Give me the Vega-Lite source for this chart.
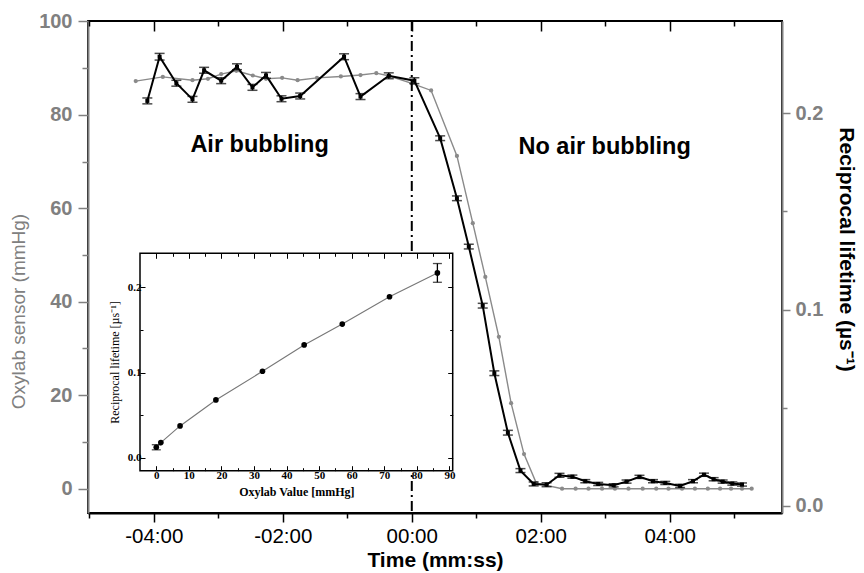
{
  "$schema": "https://vega.github.io/schema/vega-lite/v6.json",
  "width": 694,
  "height": 492,
  "autosize": "none",
  "padding": {"left": 88, "top": 21, "right": 82, "bottom": 60},
  "background": "white",
  "config": {"view": {"stroke": "black", "strokeWidth": 2}, "axis": {"grid": false}},
  "datasets": {
    "oxylab": [
      {"t": -4.28, "o": 87.2}, {"t": -3.86, "o": 88.1}, {"t": -3.4, "o": 87.4}, {"t": -3.16, "o": 87.7},
      {"t": -2.955, "o": 88.7}, {"t": -2.72, "o": 89.4}, {"t": -2.465, "o": 88.4}, {"t": -2.26, "o": 87.7},
      {"t": -2.01, "o": 87.9}, {"t": -1.77, "o": 87.4}, {"t": -1.47, "o": 87.9}, {"t": -1.1, "o": 88.2},
      {"t": -0.795, "o": 88.5}, {"t": -0.55, "o": 88.9}, {"t": -0.346, "o": 88.3}, {"t": 0, "o": 86.7},
      {"t": 0.3, "o": 85.2}, {"t": 0.7, "o": 71.2}, {"t": 0.946, "o": 56.8}, {"t": 1.14, "o": 45.3},
      {"t": 1.35, "o": 32.5}, {"t": 1.54, "o": 18.3}, {"t": 1.74, "o": 7.4}, {"t": 1.93, "o": 1.2},
      {"t": 2.33, "o": 0}, {"t": 2.54, "o": 0}, {"t": 2.74, "o": 0}, {"t": 2.95, "o": 0},
      {"t": 3.15, "o": 0}, {"t": 3.36, "o": 0}, {"t": 3.58, "o": 0}, {"t": 3.79, "o": 0},
      {"t": 3.98, "o": 0}, {"t": 4.19, "o": 0}, {"t": 4.39, "o": 0}, {"t": 4.59, "o": 0},
      {"t": 4.78, "o": 0}, {"t": 4.95, "o": 0}, {"t": 5.12, "o": 0}, {"t": 5.27, "o": 0}
    ],
    "recip": [
      {"t": -4.1, "r": 0.2063, "lo": 0.2048, "hi": 0.2078},
      {"t": -3.91, "r": 0.2288, "lo": 0.2271, "hi": 0.2305},
      {"t": -3.65, "r": 0.2153, "lo": 0.2138, "hi": 0.2168},
      {"t": -3.4, "r": 0.2071, "lo": 0.2056, "hi": 0.2086},
      {"t": -3.22, "r": 0.2219, "lo": 0.2204, "hi": 0.2234},
      {"t": -2.955, "r": 0.2166, "lo": 0.2151, "hi": 0.2181},
      {"t": -2.71, "r": 0.2237, "lo": 0.2222, "hi": 0.2252},
      {"t": -2.47, "r": 0.2132, "lo": 0.2117, "hi": 0.2147},
      {"t": -2.26, "r": 0.2193, "lo": 0.2178, "hi": 0.2208},
      {"t": -2.02, "r": 0.2074, "lo": 0.2059, "hi": 0.2089},
      {"t": -1.73, "r": 0.2088, "lo": 0.2073, "hi": 0.2103},
      {"t": -1.05, "r": 0.2288, "lo": 0.2273, "hi": 0.2303},
      {"t": -0.795, "r": 0.2085, "lo": 0.207, "hi": 0.21},
      {"t": -0.357, "r": 0.2191, "lo": 0.2176, "hi": 0.2206},
      {"t": 0.04, "r": 0.2166, "lo": 0.2151, "hi": 0.2181},
      {"t": 0.44, "r": 0.1873, "lo": 0.1861, "hi": 0.1885},
      {"t": 0.7, "r": 0.1567, "lo": 0.1555, "hi": 0.1579},
      {"t": 0.884, "r": 0.1321, "lo": 0.1309, "hi": 0.1333},
      {"t": 1.1, "r": 0.102, "lo": 0.1008, "hi": 0.1032},
      {"t": 1.28, "r": 0.0676, "lo": 0.0664, "hi": 0.0688},
      {"t": 1.49, "r": 0.0373, "lo": 0.0361, "hi": 0.0385},
      {"t": 1.685, "r": 0.018, "lo": 0.017, "hi": 0.019},
      {"t": 1.89, "r": 0.0112, "lo": 0.0102, "hi": 0.0122},
      {"t": 2.09, "r": 0.0108, "lo": 0.0098, "hi": 0.0118},
      {"t": 2.29, "r": 0.0156, "lo": 0.0146, "hi": 0.0166},
      {"t": 2.49, "r": 0.0149, "lo": 0.0141, "hi": 0.0157},
      {"t": 2.69, "r": 0.0126, "lo": 0.0118, "hi": 0.0134},
      {"t": 2.89, "r": 0.0112, "lo": 0.0104, "hi": 0.012},
      {"t": 3.13, "r": 0.0105, "lo": 0.0097, "hi": 0.0113},
      {"t": 3.33, "r": 0.0124, "lo": 0.0116, "hi": 0.0132},
      {"t": 3.53, "r": 0.0148, "lo": 0.014, "hi": 0.0156},
      {"t": 3.74, "r": 0.0126, "lo": 0.0118, "hi": 0.0134},
      {"t": 3.93, "r": 0.0117, "lo": 0.0109, "hi": 0.0125},
      {"t": 4.16, "r": 0.0102, "lo": 0.0094, "hi": 0.011},
      {"t": 4.36, "r": 0.0126, "lo": 0.0118, "hi": 0.0134},
      {"t": 4.53, "r": 0.0159, "lo": 0.0151, "hi": 0.0167},
      {"t": 4.68, "r": 0.0136, "lo": 0.0128, "hi": 0.0144},
      {"t": 4.82, "r": 0.0124, "lo": 0.0116, "hi": 0.0132},
      {"t": 4.97, "r": 0.0114, "lo": 0.0106, "hi": 0.0122},
      {"t": 5.12, "r": 0.0109, "lo": 0.0101, "hi": 0.0117}
    ],
    "calib": [
      {"v": 0, "r": 0.0125}, {"v": 1.4, "r": 0.018}, {"v": 7.3, "r": 0.0375}, {"v": 18.3, "r": 0.068},
      {"v": 32.6, "r": 0.1016}, {"v": 45.4, "r": 0.1325}, {"v": 57.1, "r": 0.157}, {"v": 71.6, "r": 0.189},
      {"v": 86.3, "r": 0.217}
    ],
    "calib_err": [
      {"v": 0, "r": 0.0125, "lo": 0.0095, "hi": 0.0155},
      {"v": 86.3, "r": 0.217, "lo": 0.206, "hi": 0.228}
    ],
    "notes": [
      {"t": -2.36, "o": 73.5, "label": "Air bubbling"},
      {"t": 2.99, "o": 73.1, "label": "No air bubbling"}
    ],
    "zero": [{"t": 0}]
  },
  "resolve": {"scale": {"x": "independent", "y": "independent"}, "axis": {"x": "independent", "y": "independent"}},
  "layer": [
    {
      "resolve": {"scale": {"y": "independent"}, "axis": {"y": "independent"}},
      "layer": [
        {
          "data": {"name": "oxylab"},
          "encoding": {
            "x": {"field": "t", "type": "quantitative", "scale": {"domain": [-5.02, 5.74], "nice": false, "zero": false},
              "axis": {"orient": "bottom", "values": [-5, -4, -3, -2, -1, 0, 1, 2, 3, 4, 5],
                "labelExpr": "datum.value % 2 === 0 ? (datum.value < 0 ? '-' : '') + '0' + abs(datum.value) + ':00' : ''",
                "tickSize": {"condition": {"test": "datum.value % 2 === 0", "value": 9}, "value": 5},
                "labelFont": "Liberation Sans", "labelFontSize": 20.5, "labelColor": "black", "labelPadding": 4,
                "domainColor": "black", "domainWidth": 2, "tickColor": "black", "tickWidth": 1.5,
                "title": "Time (mm:ss)", "titleFont": "Liberation Sans", "titleFontWeight": "bold", "titleFontSize": 21, "titlePadding": 3, "titleColor": "black"}},
            "y": {"field": "o", "type": "quantitative", "scale": {"domain": [-5.2, 100.06], "nice": false, "zero": false},
              "axis": {"orient": "left", "values": [0, 10, 20, 30, 40, 50, 60, 70, 80, 90, 100],
                "labelExpr": "datum.value % 20 === 0 ? datum.label : ''",
                "tickSize": {"condition": {"test": "datum.value % 20 === 0", "value": 10}, "value": 6},
                "labelFont": "Liberation Sans", "labelFontWeight": "bold", "labelFontSize": 20, "labelColor": "#808080", "labelPadding": 6,
                "domainColor": "#808080", "domainWidth": 2, "tickColor": "#808080", "tickWidth": 1.5,
                "title": "Oxylab sensor (mmHg)", "titleFont": "Liberation Sans", "titleFontWeight": "normal", "titleFontSize": 19, "titleColor": "#808080", "titlePadding": 10, "titleY": 290}}
          },
          "layer": [
            {"mark": {"type": "line", "color": "#8a8a8a", "strokeWidth": 1.4}},
            {"mark": {"type": "circle", "color": "#8a8a8a", "size": 18, "opacity": 1}},
            {
              "data": {"name": "notes"},
              "mark": {"type": "text", "font": "Liberation Sans", "fontWeight": "bold", "fontSize": 23.5, "color": "black", "baseline": "middle"},
              "encoding": {"text": {"field": "label"}}
            }
          ]
        },
        {
          "data": {"name": "recip"},
          "encoding": {
            "x": {"field": "t", "type": "quantitative", "scale": {"domain": [-5.02, 5.74], "nice": false, "zero": false},
              "axis": {"orient": "bottom", "values": [-5, -4, -3, -2, -1, 0, 1, 2, 3, 4, 5],
                "labelExpr": "datum.value % 2 === 0 ? (datum.value < 0 ? '-' : '') + '0' + abs(datum.value) + ':00' : ''",
                "tickSize": {"condition": {"test": "datum.value % 2 === 0", "value": 9}, "value": 5},
                "labelFont": "Liberation Sans", "labelFontSize": 20.5, "labelColor": "black", "labelPadding": 4,
                "domainColor": "black", "domainWidth": 2, "tickColor": "black", "tickWidth": 1.5,
                "title": "Time (mm:ss)", "titleFont": "Liberation Sans", "titleFontWeight": "bold", "titleFontSize": 21, "titlePadding": 3, "titleColor": "black"}},
            "y": {"field": "r", "type": "quantitative", "scale": {"domain": [-0.0036, 0.247], "nice": false, "zero": false},
              "axis": {"orient": "right", "values": [0, 0.05, 0.1, 0.15, 0.2],
                "labelExpr": "round(datum.value * 20) % 2 === 0 ? format(datum.value, '.1f') : ''",
                "tickSize": {"condition": {"test": "round(datum.value * 20) % 2 === 0", "value": 8}, "value": 5},
                "labelFont": "Liberation Sans", "labelFontWeight": "bold", "labelFontSize": 20, "labelColor": "#808080", "labelPadding": 5,
                "domainColor": "#808080", "domainWidth": 2, "tickColor": "#808080", "tickWidth": 1.5,
                "title": "Reciprocal lifetime (µs⁻¹)", "titleFont": "Liberation Sans", "titleFontWeight": "bold", "titleFontSize": 21, "titleColor": "black", "titlePadding": 13, "titleY": 228}}
          },
          "layer": [
            {"mark": {"type": "line", "color": "black", "strokeWidth": 2}},
            {"mark": {"type": "square", "color": "black", "size": 16, "opacity": 1}},
            {
              "mark": {"type": "errorbar", "ticks": {"size": 10, "thickness": 1.5, "color": "black"}, "rule": {"strokeWidth": 1.5, "color": "black"}},
              "encoding": {
                "y": {"field": "lo", "type": "quantitative", "scale": {"domain": [-0.0036, 0.247], "nice": false, "zero": false},
                  "axis": {"orient": "right", "values": [0, 0.05, 0.1, 0.15, 0.2],
                    "labelExpr": "round(datum.value * 20) % 2 === 0 ? format(datum.value, '.1f') : ''",
                    "tickSize": {"condition": {"test": "round(datum.value * 20) % 2 === 0", "value": 8}, "value": 5},
                    "labelFont": "Liberation Sans", "labelFontWeight": "bold", "labelFontSize": 20, "labelColor": "#808080", "labelPadding": 5,
                    "domainColor": "#808080", "domainWidth": 2, "tickColor": "#808080", "tickWidth": 1.5,
                    "title": "Reciprocal lifetime (µs⁻¹)", "titleFont": "Liberation Sans", "titleFontWeight": "bold", "titleFontSize": 21, "titleColor": "black", "titlePadding": 13, "titleY": 228}},
                "y2": {"field": "hi"}
              }
            }
          ]
        }
      ]
    },
    {
      "data": {"name": "zero"},
      "mark": {"type": "rule", "color": "black", "strokeWidth": 2, "strokeDash": [10, 4, 2, 4]},
      "encoding": {
        "x": {"field": "t", "type": "quantitative", "scale": {"domain": [-5.02, 5.74], "nice": false, "zero": false},
          "axis": {"orient": "top", "values": [-5, -4, -3, -2, -1, 0, 1, 2, 3, 4, 5], "labels": false, "domain": false,
            "tickSize": {"condition": {"test": "datum.value % 2 === 0", "value": -10}, "value": -5},
            "tickColor": "black", "tickWidth": 1.5, "title": null, "zindex": 1}}
      }
    },
    {
      "encoding": {
        "x": {"field": "v", "type": "quantitative", "scale": {"domain": [-5, 91], "range": [52, 364.7], "nice": false, "zero": false},
          "axis": {"orient": "bottom", "offset": -42.3, "values": [0, 5, 10, 15, 20, 25, 30, 35, 40, 45, 50, 55, 60, 65, 70, 75, 80, 85, 90],
            "labelExpr": "datum.value % 10 === 0 ? datum.label : ''",
            "tickSize": {"condition": {"test": "datum.value % 10 === 0", "value": -5}, "value": -3},
            "labelFont": "Liberation Serif", "labelFontWeight": "bold", "labelFontSize": 11, "labelColor": "black", "labelPadding": 4,
            "domain": false, "tickColor": "black", "tickWidth": 1,
            "title": "Oxylab Value [mmHg]", "titleFont": "Liberation Serif", "titleFontWeight": "bold", "titleFontSize": 12, "titleColor": "black", "titlePadding": 6, "zindex": 2}},
        "y": {"field": "r", "type": "quantitative", "scale": {"domain": [-0.015, 0.24], "range": [449.7, 232.3], "nice": false, "zero": false},
          "axis": {"orient": "left", "offset": -52, "values": [0, 0.05, 0.1, 0.15, 0.2],
            "labelExpr": "round(datum.value * 20) % 2 === 0 ? format(datum.value, '.1f') : ''",
            "tickSize": {"condition": {"test": "round(datum.value * 20) % 2 === 0", "value": -5}, "value": -3},
            "labelFont": "Liberation Serif", "labelFontWeight": "bold", "labelFontSize": 11, "labelColor": "black", "labelPadding": 4,
            "domain": false, "tickColor": "black", "tickWidth": 1,
            "title": "Reciprocal lifetime [µs⁻¹]", "titleFont": "Liberation Serif", "titleFontWeight": "normal", "titleFontSize": 12, "titleColor": "black", "titlePadding": 6, "zindex": 2}}
      },
      "layer": [
        {
          "data": {"values": [{"v": -5, "v2": 91, "r": -0.015, "r2": 0.24}]},
          "mark": {"type": "rect", "fill": "white", "stroke": "black", "strokeWidth": 1.5},
          "encoding": {
            "x2": {"field": "v2"},
            "y2": {"field": "r2"}
          }
        },
        {
          "data": {"name": "calib"},
          "mark": {"type": "line", "color": "#777777", "strokeWidth": 1.1}
        },
        {
          "data": {"name": "calib"},
          "mark": {"type": "circle", "color": "black", "size": 32, "opacity": 1}
        },
        {
          "data": {"name": "calib_err"},
          "mark": {"type": "rule", "color": "black", "strokeWidth": 1.3},
          "encoding": {"y": {"field": "lo", "type": "quantitative", "scale": {"domain": [-0.015, 0.24], "range": [449.7, 232.3], "nice": false, "zero": false},
              "axis": {"orient": "left", "offset": -52, "values": [0, 0.05, 0.1, 0.15, 0.2],
                "labelExpr": "round(datum.value * 20) % 2 === 0 ? format(datum.value, '.1f') : ''",
                "tickSize": {"condition": {"test": "round(datum.value * 20) % 2 === 0", "value": -5}, "value": -3},
                "labelFont": "Liberation Serif", "labelFontWeight": "bold", "labelFontSize": 11, "labelColor": "black", "labelPadding": 4,
                "domain": false, "tickColor": "black", "tickWidth": 1,
                "title": "Reciprocal lifetime [µs⁻¹]", "titleFont": "Liberation Serif", "titleFontWeight": "normal", "titleFontSize": 12, "titleColor": "black", "titlePadding": 6, "zindex": 2}},
            "y2": {"field": "hi"}}
        },
        {
          "data": {"name": "calib_err"},
          "mark": {"type": "tick", "color": "black", "orient": "horizontal", "size": 9, "thickness": 1.3},
          "encoding": {"y": {"field": "lo", "type": "quantitative", "scale": {"domain": [-0.015, 0.24], "range": [449.7, 232.3], "nice": false, "zero": false},
              "axis": {"orient": "left", "offset": -52, "values": [0, 0.05, 0.1, 0.15, 0.2],
                "labelExpr": "round(datum.value * 20) % 2 === 0 ? format(datum.value, '.1f') : ''",
                "tickSize": {"condition": {"test": "round(datum.value * 20) % 2 === 0", "value": -5}, "value": -3},
                "labelFont": "Liberation Serif", "labelFontWeight": "bold", "labelFontSize": 11, "labelColor": "black", "labelPadding": 4,
                "domain": false, "tickColor": "black", "tickWidth": 1,
                "title": "Reciprocal lifetime [µs⁻¹]", "titleFont": "Liberation Serif", "titleFontWeight": "normal", "titleFontSize": 12, "titleColor": "black", "titlePadding": 6, "zindex": 2}}}
        },
        {
          "data": {"name": "calib_err"},
          "mark": {"type": "tick", "color": "black", "orient": "horizontal", "size": 9, "thickness": 1.3},
          "encoding": {"y": {"field": "hi", "type": "quantitative", "scale": {"domain": [-0.015, 0.24], "range": [449.7, 232.3], "nice": false, "zero": false},
              "axis": {"orient": "left", "offset": -52, "values": [0, 0.05, 0.1, 0.15, 0.2],
                "labelExpr": "round(datum.value * 20) % 2 === 0 ? format(datum.value, '.1f') : ''",
                "tickSize": {"condition": {"test": "round(datum.value * 20) % 2 === 0", "value": -5}, "value": -3},
                "labelFont": "Liberation Serif", "labelFontWeight": "bold", "labelFontSize": 11, "labelColor": "black", "labelPadding": 4,
                "domain": false, "tickColor": "black", "tickWidth": 1,
                "title": "Reciprocal lifetime [µs⁻¹]", "titleFont": "Liberation Serif", "titleFontWeight": "normal", "titleFontSize": 12, "titleColor": "black", "titlePadding": 6, "zindex": 2}}}
        }
      ]
    },
    {
      "data": {"name": "calib"},
      "mark": {"type": "circle", "color": "black", "size": 32, "opacity": 0},
      "encoding": {
        "x": {"field": "v", "type": "quantitative", "scale": {"domain": [-5, 91], "range": [52, 364.7], "nice": false, "zero": false},
          "axis": {"orient": "top", "offset": -232.3, "values": [0, 5, 10, 15, 20, 25, 30, 35, 40, 45, 50, 55, 60, 65, 70, 75, 80, 85, 90],
            "labels": false, "domain": false, "title": null,
            "tickSize": {"condition": {"test": "datum.value % 10 === 0", "value": -5}, "value": -3},
            "tickColor": "black", "tickWidth": 1, "zindex": 2}},
        "y": {"field": "r", "type": "quantitative", "scale": {"domain": [-0.015, 0.24], "range": [449.7, 232.3], "nice": false, "zero": false},
          "axis": {"orient": "right", "offset": -329.3, "values": [0, 0.05, 0.1, 0.15, 0.2],
            "labels": false, "domain": false, "title": null,
            "tickSize": {"condition": {"test": "round(datum.value * 20) % 2 === 0", "value": -5}, "value": -3},
            "tickColor": "black", "tickWidth": 1, "zindex": 2}}
      }
    }
  ]
}
